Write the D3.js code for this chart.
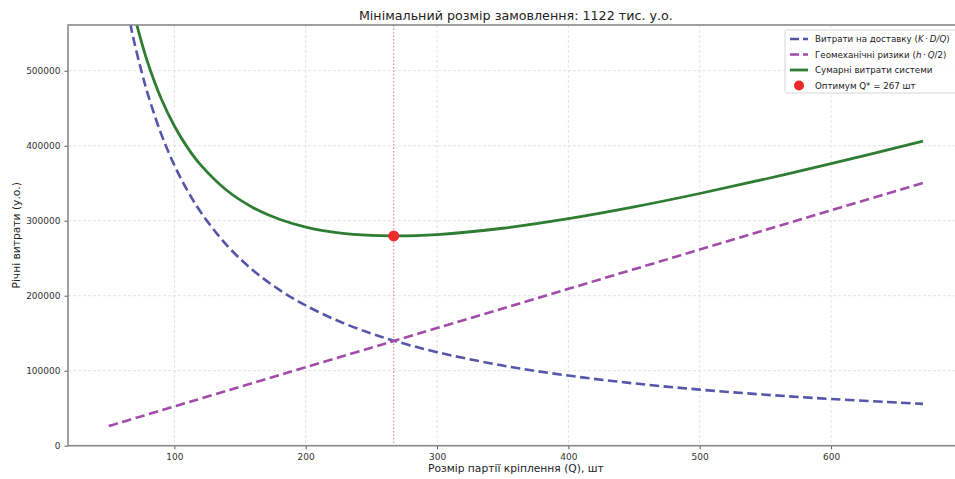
<!DOCTYPE html>
<html><head><meta charset="utf-8">
<script src="https://cdn.jsdelivr.net/npm/d3@7"></script>
<style>
body{margin:0;background:#fff;}
text{font-family:"DejaVu Sans",sans-serif;}
</style></head>
<body><svg id="c" width="955" height="479"></svg>
<script>
const qValues = [50,55,60,65,70,75,80,90,100,110,120,140,160,180,200,225,250,267,300,350,400,450,500,550,600,670];
const deliveryCost = [748000,680000,623000,575000,534000,499000,467500,415500,374000,340000,311700,267100,233750,207800,187000,166200,149600,140100,124700,106900,93500,83100,74800,68000,62300,55800];
const riskCost = [26150,28770,31380,34000,36610,39230,41840,47070,52300,57530,62760,73220,83680,94140,104600,117680,130750,139640,156900,183050,209200,235350,261500,287650,313800,350410];
const totalCost = [774150,708770,654380,609000,570610,538230,509340,462570,426300,397530,374460,340320,317430,301940,291600,283880,280350,279740,281600,289950,302700,318450,336300,355650,376100,406210];
const optimumQ = 267;
const optimumCost = 279740;
const xTicks = [100,200,300,400,500,600];
const yTicks = [0,100000,200000,300000,400000,500000];
const titleText = "Мінімальний розмір замовлення: 1122 тис. у.о.";
const xLabel = "Розмір партії кріплення (Q), шт";
const yLabel = "Річні витрати (у.о.)";

const svg = d3.select("#c");
const L=68, R=963.7, T=25, B=445.7;
const x = d3.scaleLinear().domain([19,701]).range([L,R]);
const y = d3.scaleLinear().domain([0,561000]).range([B,T]);

svg.append("defs").append("clipPath").attr("id","clip").append("rect")
  .attr("x",L).attr("y",T).attr("width",R-L).attr("height",B-T);

// grid
const g = svg.append("g");
g.selectAll(".gx").data(xTicks).join("line").attr("x1",d=>x(d)).attr("x2",d=>x(d))
  .attr("y1",T).attr("y2",B).attr("stroke","#dcdcdc").attr("stroke-width",0.8).attr("stroke-dasharray","3,2");
g.selectAll(".gy").data(yTicks).join("line").attr("y1",d=>y(d)).attr("y2",d=>y(d))
  .attr("x1",L).attr("x2",R).attr("stroke","#dcdcdc").attr("stroke-width",0.8).attr("stroke-dasharray","3,2");

const plot = svg.append("g").attr("clip-path","url(#clip)");
// optimum vertical line
plot.append("line").attr("x1",x(optimumQ)).attr("x2",x(optimumQ)).attr("y1",T).attr("y2",B)
  .attr("stroke","#f07070").attr("stroke-width",1).attr("stroke-dasharray","1.5,2");

const line = d3.line().x((d,i)=>x(qValues[i])).y(d=>y(d)).curve(d3.curveCatmullRom.alpha(0.5));
plot.append("path").attr("d",line(deliveryCost)).attr("fill","none")
  .attr("stroke","#5555aa").attr("stroke-width",2.6).attr("stroke-dasharray","9.5,4.5");
plot.append("path").attr("d",line(riskCost)).attr("fill","none")
  .attr("stroke","#a04ca8").attr("stroke-width",2.6).attr("stroke-dasharray","9.5,4.5");
plot.append("path").attr("d",line(totalCost)).attr("fill","none")
  .attr("stroke","#2e7d32").attr("stroke-width",2.8);
plot.append("circle").attr("cx",x(optimumQ)).attr("cy",y(optimumCost)).attr("r",5.5).attr("fill","#ee2a2a");

// axes
const xa = svg.append("g").attr("transform",`translate(0,${B})`)
  .call(d3.axisBottom(x).tickValues(xTicks).tickSize(3.5).tickPadding(4).tickFormat(d3.format("d")));
const ya = svg.append("g").attr("transform",`translate(${L},0)`)
  .call(d3.axisLeft(y).tickValues(yTicks).tickSize(3.5).tickPadding(4).tickFormat(d3.format("d")));
[xa,ya].forEach(a=>{
  a.select(".domain").remove();
  a.selectAll(".tick line").attr("stroke","#555");
  a.selectAll(".tick text").attr("fill","#333").style("font-size","9px").style("font-family","DejaVu Sans");
});
// spines
svg.append("rect").attr("x",L).attr("y",T).attr("width",R-L).attr("height",B-T)
  .attr("fill","none").attr("stroke","#888").attr("stroke-width",1.6);

svg.append("text").attr("x",(L+R)/2).attr("y",20).attr("text-anchor","middle")
  .style("font-size","12.7px").attr("fill","#222").text(titleText);
svg.append("text").attr("x",(L+R)/2).attr("y",472).attr("text-anchor","middle")
  .style("font-size","10.7px").attr("fill","#222").text(xLabel);
svg.append("text").attr("transform",`translate(20,${(T+B)/2}) rotate(-90)`).attr("text-anchor","middle")
  .style("font-size","10.7px").attr("fill","#222").text(yLabel);

// legend
const lg = svg.append("g");
lg.append("rect").attr("x",785).attr("y",30).attr("width",180).attr("height",63).attr("rx",2)
  .attr("fill","#fff").attr("fill-opacity",0.85).attr("stroke","#ccc").attr("stroke-width",0.8);
const items = [
  {c:"#5555aa",dash:"9,4",w:2.4,type:"line",parts:[["Витрати на доставку (",""],["K","i"],["\u2009·\u2009",""],["D/Q","i"],[")",""]]},
  {c:"#a04ca8",dash:"9,4",w:2.4,type:"line",parts:[["Геомеханічні ризики (",""],["h","i"],["\u2009·\u2009",""],["Q","i"],["/2)",""]]},
  {c:"#2e7d32",dash:null,w:2.8,type:"line",parts:[["Сумарні витрати системи",""]]},
  {c:"#ee2a2a",type:"dot",parts:[["Оптимум Q* = 267 шт",""]]}
];
items.forEach((it,i)=>{
  const yy = 39 + i*15.5;
  if(it.type==="line"){
    const l = lg.append("line").attr("x1",790).attr("x2",808).attr("y1",yy).attr("y2",yy)
      .attr("stroke",it.c).attr("stroke-width",it.w);
    if(it.dash) l.attr("stroke-dasharray",it.dash);
  } else {
    lg.append("circle").attr("cx",799).attr("cy",yy).attr("r",5).attr("fill",it.c);
  }
  const t = lg.append("text").attr("x",815).attr("y",yy+3.3).style("font-size","8.7px").attr("fill","#222");
  it.parts.forEach(p=>{ const s=t.append("tspan").text(p[0]); if(p[1]==="i") s.style("font-style","italic"); });
});
</script></body></html>
